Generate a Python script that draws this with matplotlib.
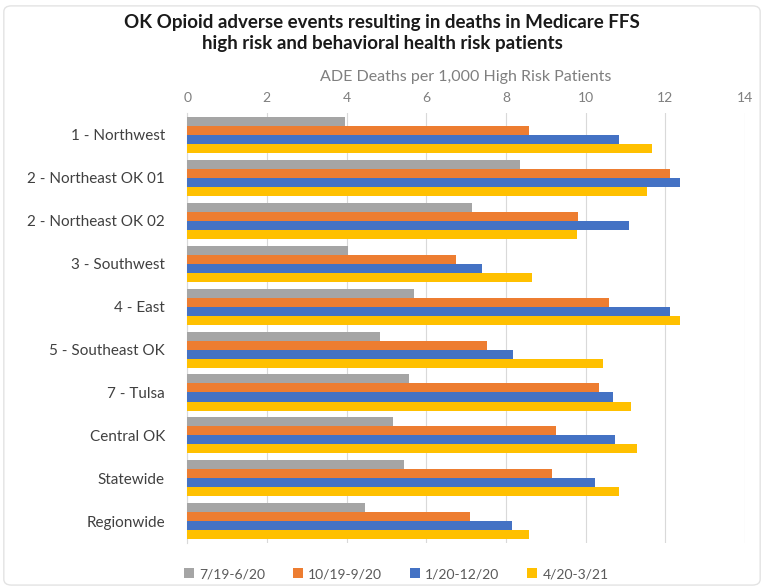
import matplotlib.pyplot as plt
import numpy as np
from matplotlib.patches import FancyBboxPatch

plt.rcParams['font.family'] = ['Lato', 'DejaVu Sans']

regions = ['1 - Northwest', '2 - Northeast OK 01', '2 - Northeast OK 02', '3 - Southwest',
           '4 - East', '5 - Southeast OK', '7 - Tulsa', 'Central OK', 'Statewide', 'Regionwide']
periods = ['7/19-6/20', '10/19-9/20', '1/20-12/20', '4/20-3/21']
p1 = [3.95, 8.36, 7.16, 4.04, 5.69, 4.85, 5.58, 5.16, 5.44, 4.46]
p2 = [8.59, 12.12, 9.82, 6.75, 10.59, 7.52, 10.34, 9.27, 9.17, 7.09]
p3 = [10.85, 12.38, 11.09, 7.41, 12.12, 8.18, 10.70, 10.75, 10.23, 8.16]
p4 = [11.68, 11.55, 9.78, 8.65, 12.36, 10.43, 11.14, 11.28, 10.83, 8.59]
colors = ['#A5A5A5', '#ED7D31', '#4472C4', '#FFC000']

fig = plt.figure(figsize=(7.64, 5.88), dpi=100)
ax = fig.add_axes([0.245, 0.077, 0.730, 0.730])

y = np.arange(len(regions))
h = 0.21
for i, (vals, lab, c) in enumerate(zip([p1, p2, p3, p4], periods, colors)):
    ax.barh(y + (i - 1.5) * h, vals, height=h, color=c, label=lab, zorder=3)

ax.set_ylim(len(regions) - 0.5, -0.5)
ax.set_yticks(y)
ax.set_yticklabels(regions, fontsize=11, color='#404040')
ax.set_xlim(0, 14)
ax.set_xticks(range(0, 15, 2))
ax.xaxis.tick_top()
ax.xaxis.set_label_position('top')
ax.tick_params(axis='x', colors='#7f7f7f', labelsize=10, length=0, pad=7)
ax.tick_params(axis='y', length=0, pad=16)
ax.set_xlabel('ADE Deaths per 1,000 High Risk Patients', fontsize=11.5, color='#7f7f7f', labelpad=8)
ax.grid(axis='x', color='#d9d9d9', linewidth=0.8, zorder=0)
for s in ['top', 'right', 'bottom']:
    ax.spines[s].set_visible(False)
ax.spines['left'].set_color('#d9d9d9')

fig.text(0.5, 0.944, 'OK Opioid adverse events resulting in deaths in Medicare FFS\nhigh risk and behavioral health risk patients',
         ha='center', va='center', fontsize=13.5, fontweight='bold', color='#1a1a1a', linespacing=1.25)

ax.legend(loc='upper center', bbox_to_anchor=(0.375, -0.03), ncol=4, frameon=False,
          fontsize=10, handlelength=0.7, handleheight=0.7, columnspacing=2.0,
          handletextpad=0.4, labelcolor='#595959')

border = FancyBboxPatch((0.005, 0.005), 0.99, 0.985, boxstyle='round,pad=0,rounding_size=0.01',
                        transform=fig.transFigure, fill=False, edgecolor='#e3e3e3', linewidth=1)
fig.patches.append(border)

fig.savefig('out.png', dpi=100)
